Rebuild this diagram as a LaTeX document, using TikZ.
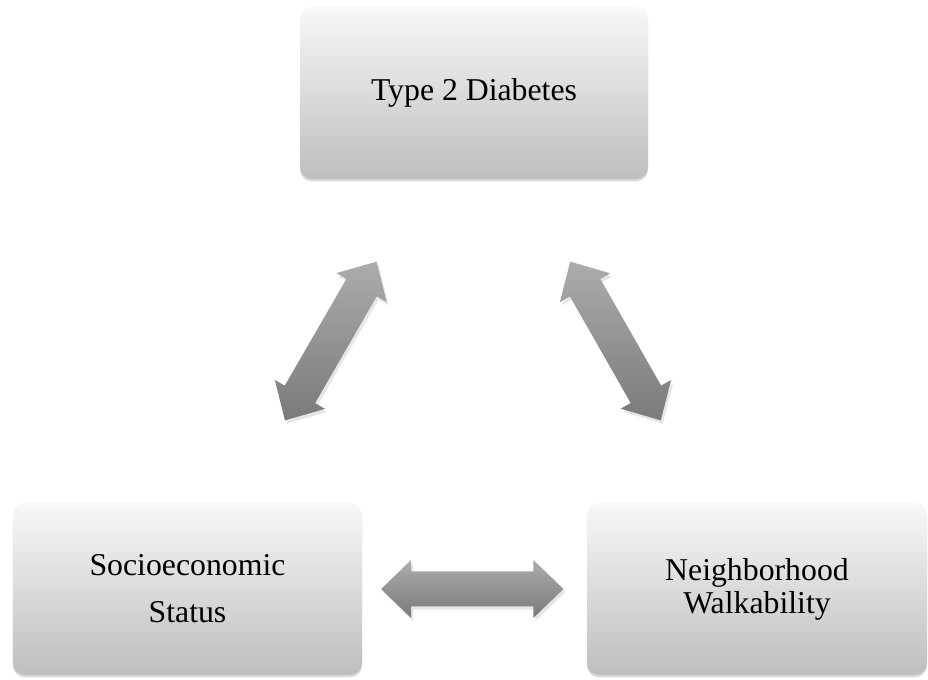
\documentclass[tikz,border=0pt]{standalone}
\usepackage{fontspec}
\setmainfont{Liberation Serif}
\usetikzlibrary{calc,shadows}
\definecolor{boxtop}{RGB}{248,248,248}
\definecolor{boxbot}{RGB}{190,190,190}
\definecolor{arrtop}{RGB}{172,172,172}
\definecolor{arrbot}{RGB}{122,122,122}
\tikzset{
  factor/.style={rectangle, rounded corners=0.3cm, minimum width=8.7cm,
    minimum height=4.3cm, top color=boxtop, bottom color=boxbot,
    drop shadow={shadow xshift=0pt, shadow yshift=-0.06cm, opacity=0.3},
    align=center, font=\fontsize{22.6}{23.6}\selectfont},
  fatarrow/.style={top color=arrtop, bottom color=arrbot,
    drop shadow={shadow xshift=0.05cm, shadow yshift=-0.08cm, opacity=0.2}}
}
% fat double arrow on the middle third between two nodes
\newcommand{\dblarrow}[2]{%
  \coordinate (p) at ($(#1)!0.34!(#2)$);
  \coordinate (q) at ($(#1)!0.66!(#2)$);
  \coordinate (hp) at ($(p)!0.75cm!(q)$);
  \coordinate (hq) at ($(q)!0.75cm!(p)$);
  \shade[fatarrow] (p) -- ($(hp)!0.725cm!90:(q)$) -- ($(hp)!0.4375cm!90:(q)$)
    -- ($(hq)!0.4375cm!-90:(p)$) -- ($(hq)!0.725cm!-90:(p)$) -- (q)
    -- ($(hq)!0.725cm!90:(p)$) -- ($(hq)!0.4375cm!90:(p)$)
    -- ($(hp)!0.4375cm!-90:(q)$) -- ($(hp)!0.725cm!-90:(q)$) -- cycle;
}
\begin{document}
\begin{tikzpicture}
  \useasboundingbox (0,0) rectangle (23.2,17);
  \node[factor] (t2d) at (11.85,14.675) {Type 2 Diabetes};
  \node[factor, minimum width=8.725cm] (ses) at (4.6875,2.275) {Socioeconomic\\[10pt]Status};
  \node[factor, minimum width=8.5cm] (walk) at (18.925,2.275) {Neighborhood\\Walkability};
  \dblarrow{t2d}{ses}
  \dblarrow{t2d}{walk}
  \dblarrow{ses}{walk}
\end{tikzpicture}
\end{document}
